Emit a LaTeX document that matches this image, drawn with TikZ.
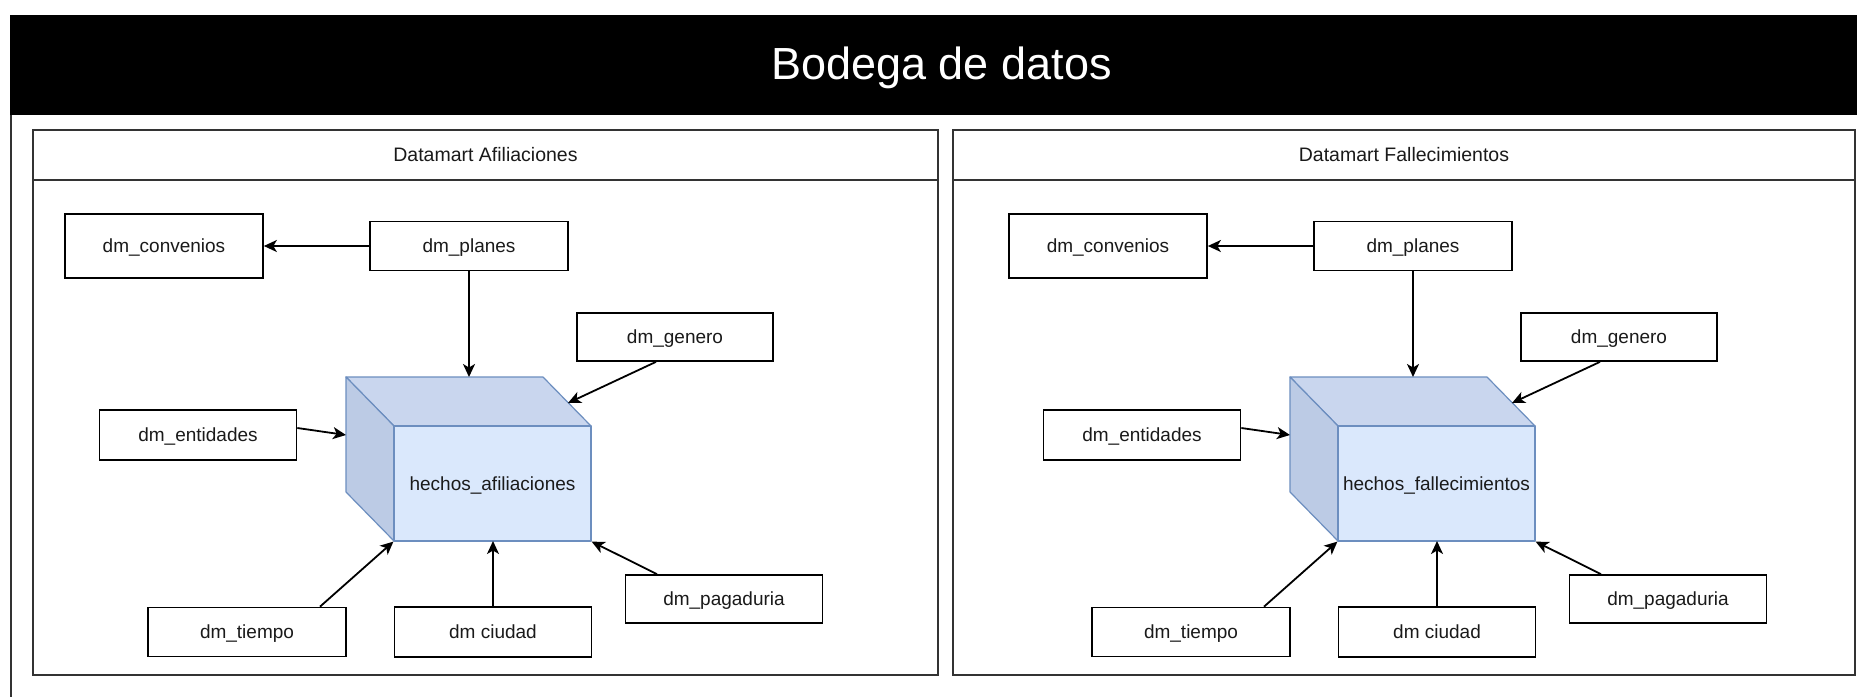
\documentclass[tikz,border=0pt]{standalone}
\usepackage{fontspec}
\setmainfont{Liberation Sans}
\usetikzlibrary{arrows.meta,calc}
\definecolor{cubefront}{HTML}{DAE8FC}
\definecolor{cubetop}{HTML}{C9D6EE}
\definecolor{cubeside}{HTML}{BCCBE5}
\definecolor{cubeline}{HTML}{6C8EBF}
\definecolor{edgegray}{HTML}{333333}
\definecolor{txt}{HTML}{1A1A1A}
\newcommand{\dmcontent}[3]{%
\begin{scope}[xshift=#2pt]
 \node[dmbox, minimum width=198pt, minimum height=64pt] (conv#1) at (164,246) {dm\_convenios};
 \node[dmbox, minimum width=198pt, minimum height=49pt] (plan#1) at (469,246) {dm\_planes};
 \node[dmbox, minimum width=196pt, minimum height=48pt] (gen#1) at (675,337) {dm\_genero};
 \node[dmbox, minimum width=197pt, minimum height=50pt] (ent#1) at (198,435) {dm\_entidades};
 \node[dmbox, minimum width=198pt, minimum height=49pt] (tiem#1) at (247,632) {dm\_tiempo};
 \node[dmbox, minimum width=197pt, minimum height=50pt] (ciu#1) at (493,632) {dm ciudad};
 \node[dmbox, minimum width=197pt, minimum height=48pt] (pag#1) at (724,599) {dm\_pagaduria};
 \filldraw[cubeface, fill=cubetop] (346,377) -- (543,377) -- (591,426) -- (394,426) -- cycle;
 \filldraw[cubeface, fill=cubeside] (346,377) -- (394,426) -- (394,541) -- (346,492) -- cycle;
 \node[cubeface, draw, fill=cubefront, minimum width=197pt, minimum height=115pt, inner sep=0pt,
   font=\fontsize{19}{23}\selectfont, text=txt, text height=17.2pt, text depth=4pt] (cube#1) at (492.5,483.5) {#3};
 \coordinate (ctop#1) at (469,377);
 \coordinate (cgen#1) at (568,403);
 \coordinate (cent#1) at (346,435);
 \coordinate (cbot#1) at (493,541);
 \draw[conn] (plan#1.west) -- (conv#1.east);
 \draw[conn] (plan#1.south) -- (ctop#1);
 \draw[conn] ($(gen#1.south)+(-19,0)$) -- (cgen#1);
 \draw[conn] ($(ent#1.east)+(0,-7)$) -- (cent#1);
 \draw[conn] ($(tiem#1.north)+(73,0)$) -- (cube#1.south west);
 \draw[conn] (ciu#1.north) -- (cbot#1);
 \draw[conn] ($(pag#1.north)+(-67,0)$) -- (cube#1.south east);
\end{scope}}
\begin{document}
\begin{tikzpicture}[x=1pt,y=-1pt,
  dmbox/.style={draw=black, line width=1.7pt, fill=white, inner sep=0pt,
    font=\fontsize{19}{23}\selectfont, text=txt, text height=17.2pt, text depth=4pt},
  conn/.style={line width=1.8pt, draw=black, -{Stealth[length=13pt,width=12pt,inset=3.5pt]}},
  panel/.style={draw=edgegray, line width=1.6pt},
  cubeface/.style={draw=cubeline, line width=1.2pt, line join=round},
  ptitle/.style={font=\fontsize{19.5}{23}\selectfont, text=txt, text height=17.6pt, text depth=4.1pt}]
\useasboundingbox (0,0) rectangle (1857,697);
\fill[white] (0,0) rectangle (1857,697);
% outer container
\fill[black] (10,15) rectangle (1857,115);
\node[text=white, font=\fontsize{45}{52}\selectfont, anchor=base] (bodega) at (941.5,79) {Bodega de datos};
\draw[edgegray, line width=1.6pt] (11,115) -- (11,697);
% panels
\draw[panel] (33,130) rectangle (938,675);
\draw[panel] (33,180) -- (938,180);
\node[ptitle] (tA) at (485.5,155) {Datamart Afiliaciones};
\draw[panel] (953,130) rectangle (1855,675);
\draw[panel] (953,180) -- (1855,180);
\node[ptitle] (tB) at (1404,155) {Datamart Fallecimientos};
\dmcontent{A}{0}{hechos\_afiliaciones}
\dmcontent{B}{944}{hechos\_fallecimientos}
\end{tikzpicture}
\end{document}
